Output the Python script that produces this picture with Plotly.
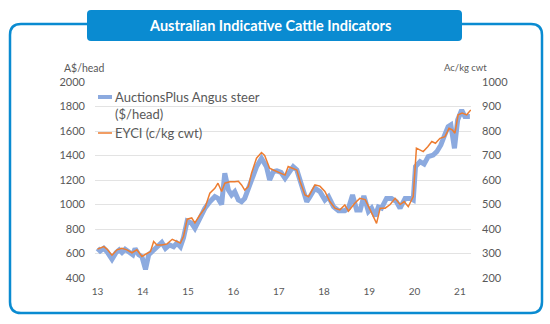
import plotly.graph_objects as go

# ---------------- data ----------------
year_ticks = [13, 14, 15, 16, 17, 18, 19, 20, 21]
year_labels = ["13", "14", "15", "16", "17", "18", "19", "20", "21"]

# AuctionsPlus Angus steer ($/head), left axis
auctions_t = [13.00, 13.06, 13.14, 13.21, 13.32, 13.41, 13.48, 13.54, 13.61, 13.70,
              13.78, 13.83, 13.91, 13.98, 14.06, 14.13, 14.24, 14.35, 14.42, 14.50,
              14.59, 14.68, 14.75, 14.83, 14.90, 14.98, 15.07, 15.15, 15.26, 15.37, 15.48,
              15.59, 15.66, 15.74, 15.81, 15.89, 15.96, 16.03, 16.11, 16.18, 16.25,
              16.40, 16.51, 16.62, 16.73, 16.80, 16.88, 16.96, 17.05, 17.14, 17.25,
              17.32, 17.40, 17.47, 17.55, 17.62, 17.69, 17.80, 17.91, 18.02, 18.10,
              18.21, 18.32, 18.46, 18.54, 18.63, 18.72, 18.80, 18.88, 18.98, 19.05,
              19.13, 19.20, 19.27, 19.38, 19.49, 19.60, 19.68, 19.79, 19.90, 19.97,
              20.02, 20.12, 20.21, 20.30, 20.41, 20.49, 20.58, 20.65, 20.74, 20.80,
              20.88, 20.95, 21.04, 21.11, 21.22]
auctions_v = [642, 620, 642, 615, 553, 608, 630, 608, 635, 615,
              590, 640, 590, 575, 470, 590, 630, 670, 690, 642,
              670, 655, 685, 655, 730, 865, 850, 806, 887, 969, 1023,
              1064, 1050, 1000, 1255, 1118, 1078, 1105, 1037, 1023, 1050,
              1200, 1308, 1377, 1308, 1200, 1268, 1275, 1262, 1214, 1268,
              1309, 1282, 1200, 1105, 1023, 1064, 1132, 1105, 1037, 1064,
              982, 950, 950, 970, 1078, 955, 955, 1070, 943, 970,
              905, 980, 970, 1050, 1050, 1023, 970, 1050, 1050, 1037,
              1309, 1350, 1330, 1391, 1404, 1431, 1486, 1554, 1636, 1650,
              1459, 1690, 1771, 1718, 1718]

# EYCI (c/kg cwt), right axis
eyci_t = [13.00, 13.07, 13.14, 13.21, 13.32, 13.43, 13.54, 13.65, 13.76, 13.87,
          13.98, 14.09, 14.17, 14.24, 14.31, 14.42, 14.53, 14.65, 14.75, 14.83,
          14.90, 14.98, 15.08, 15.15, 15.26, 15.37, 15.48, 15.59, 15.66, 15.74,
          15.81, 15.92, 16.03, 16.11, 16.18, 16.25, 16.33, 16.40, 16.51, 16.62,
          16.69, 16.80, 16.88, 16.96, 17.06, 17.14, 17.21, 17.29, 17.40, 17.47,
          17.58, 17.66, 17.80, 17.91, 18.02, 18.13, 18.24, 18.35, 18.46, 18.54,
          18.68, 18.79, 18.91, 19.02, 19.09, 19.16, 19.24, 19.35, 19.46, 19.57,
          19.68, 19.77, 19.86, 19.97, 20.04, 20.19, 20.29, 20.38, 20.46, 20.56,
          20.67, 20.76, 20.83, 20.89, 20.96, 21.05, 21.15, 21.24]
eyci_v = [318, 323, 328, 318, 293, 315, 321, 315, 303, 315,
          288, 300, 308, 349, 335, 335, 339, 358, 349, 343,
          370, 440, 445, 425, 457, 485, 546, 566, 587, 553,
          587, 593, 593, 595, 580, 559, 573, 628, 689, 712,
          700, 648, 641, 635, 625, 620, 655, 650, 641, 595,
          539, 532, 580, 575, 553, 512, 485, 478, 498, 473,
          505, 525, 520, 478, 451, 423, 485, 485, 500, 525,
          500, 512, 491, 532, 730, 716, 736, 757, 750, 770,
          777, 811, 805, 791, 866, 873, 866, 886]

series_names = ["AuctionsPlus Angus steer", "($/head)", "EYCI (c/kg cwt)"]

# ---------------- layout helpers ----------------
W, H = 550, 324
L, R, T, B = 95, 471, 82, 278
BLUE = "#0A8BD1"
LINE_BLUE = "#8CAADF"
ORANGE = "#ED7D31"
FONT = "Lato, 'Open Sans', sans-serif"
GREY = "#595959"


def px(x):
    return (x - L) / (R - L)


def py(y):
    return (B - y) / (B - T)


def rrect(x0, y0, x1, y1, r):
    pts = [("M", [(x0 + r, y0)]), ("L", [(x1 - r, y0)]), ("Q", [(x1, y0), (x1, y0 + r)]),
           ("L", [(x1, y1 - r)]), ("Q", [(x1, y1), (x1 - r, y1)]), ("L", [(x0 + r, y1)]),
           ("Q", [(x0, y1), (x0, y1 - r)]), ("L", [(x0, y0 + r)]), ("Q", [(x0, y0), (x0 + r, y0)])]
    s = ""
    for cmd, ps in pts:
        s += cmd + " " + " ".join(f"{px(a):.5f},{py(b):.5f}" for a, b in ps) + " "
    return s + "Z"


fig = go.Figure()
fig.add_trace(go.Scatter(x=auctions_t, y=auctions_v, mode="lines",
                         name=series_names[0] + " " + series_names[1],
                         line=dict(color=LINE_BLUE, width=5), yaxis="y", showlegend=False))
fig.add_trace(go.Scatter(x=eyci_t, y=eyci_v, mode="lines",
                         name=series_names[2],
                         line=dict(color=ORANGE, width=1.5), yaxis="y2", showlegend=False))

fig.update_layout(
    width=W, height=H, autosize=False,
    margin=dict(l=L, r=W - R, t=T, b=H - B, pad=0),
    paper_bgcolor="white", plot_bgcolor="white",
    font=dict(family=FONT, color=GREY, size=10),
    xaxis=dict(range=[12.945, 21.245], tickmode="array", tickvals=year_ticks,
               ticktext=year_labels, showgrid=False, zeroline=False, showline=False,
               ticks="", tickfont=dict(size=10, color=GREY), ticklabelstandoff=6,
               fixedrange=True),
    yaxis=dict(range=[400, 2000], dtick=200, showgrid=True, gridcolor="#E3E3E3",
               gridwidth=1, zeroline=False, showline=False, ticks="",
               tickfont=dict(size=11, color=GREY), ticklabelstandoff=9),
    yaxis2=dict(range=[200, 1000], dtick=100, overlaying="y", side="right",
                showgrid=False, zeroline=False, showline=False, ticks="",
                tickfont=dict(size=11, color=GREY), ticklabelstandoff=10),
    showlegend=False,
)

# legend (line samples + labels)
fig.add_shape(type="line", x0=px(98), x1=px(112), y0=py(97), y1=py(97),
              xref="paper", yref="paper", line=dict(color=LINE_BLUE, width=4))
fig.add_shape(type="line", x0=px(98), x1=px(112), y0=py(133), y1=py(133),
              xref="paper", yref="paper", line=dict(color=ORANGE, width=1.5))
for txt, yy in zip(series_names, [97, 114, 133]):
    fig.add_annotation(x=px(113), y=py(yy), xref="paper", yref="paper", text=txt,
                       showarrow=False, xanchor="left", yanchor="middle",
                       font=dict(size=13, color=GREY, family=FONT))

fig.add_annotation(x=px(62), y=py(68), xref="paper", yref="paper", text="A$/head",
                   showarrow=False, xanchor="left", yanchor="middle",
                   font=dict(size=10.5, color=GREY, family=FONT))
fig.add_annotation(x=px(442), y=py(67), xref="paper", yref="paper", text="Ac/kg cwt",
                   showarrow=False, xanchor="left", yanchor="middle",
                   font=dict(size=9.5, color=GREY, family=FONT))

fig.add_shape(type="path", path=rrect(10, 24, 542, 313, 11), xref="paper", yref="paper",
              line=dict(color=BLUE, width=2.5), fillcolor="rgba(0,0,0,0)", layer="above")
fig.add_shape(type="path", path=rrect(87, 10, 462, 41, 4), xref="paper", yref="paper",
              line=dict(color=BLUE, width=0), fillcolor=BLUE, layer="above")
fig.add_annotation(x=px(270), y=py(25.5), xref="paper", yref="paper",
                   text="<b>Australian Indicative Cattle Indicators</b>",
                   showarrow=False, xanchor="center", yanchor="middle",
                   font=dict(size=14.5, color="white", family=FONT))

fig.write_html("out.html")
